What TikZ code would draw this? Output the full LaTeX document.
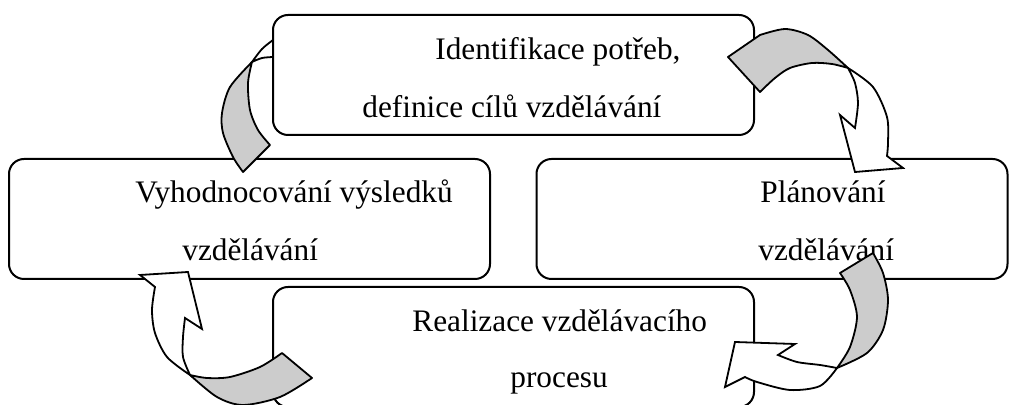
\documentclass[tikz,border=0pt]{standalone}
\usepackage{fontspec}
\setmainfont{Liberation Serif}
\usetikzlibrary{positioning}
\definecolor{BandGray}{HTML}{CCCCCC}
\tikzset{
  stagebox/.style={draw=black, line width=1pt, rounded corners=7.5pt, fill=white, inner sep=0pt, minimum width=240.5pt, minimum height=60pt},
  linetext/.style={anchor=base west, inner sep=0pt, font=\fontsize{15.65pt}{18pt}\selectfont},
  grayband/.style={draw=black, line width=0.9pt, line join=round, fill=BandGray},
  whiteband/.style={draw=black, line width=0.9pt, line join=miter, fill=white}
}
\begin{document}
\begin{tikzpicture}[x=0.5pt, y=-0.5pt]
\useasboundingbox (0,0) rectangle (1009,405);
\clip (0,0) rectangle (1009,405);

% stages of the cycle
\node[stagebox] (eval) at (249.5,219) {};
\node[stagebox, minimum width=235.5pt] (plan) at (772,219) {};
\node[stagebox] (real) at (513.5,347) {};

\node[linetext] (eval1) at (135,203) {Vyhodnocování výsledků};
\node[linetext] (eval2) at (182,261) {vzdělávání};
\node[linetext] (plan1) at (760,203) {Plánování};
\node[linetext] (plan2) at (758,261) {vzdělávání};
\node[linetext] (real1) at (412,332) {Realizace vzdělávacího};
\node[linetext] (real2) at (510,388) {procesu};

% curved arrow: top box -> evaluation
\path[whiteband] plot[smooth] coordinates {(273,40) (262,49) (252,62)}
  -- plot[smooth] coordinates {(252,62) (262,58) (273,57)} -- cycle;
\path[grayband] plot[smooth] coordinates {(252,62) (230,87) (222,113) (223,133) (233,157) (243,172)}
  -- (270,145)
  -- plot[smooth] coordinates {(270,145) (258,130) (250,110) (248,83) (252,62)} -- cycle;

\node[stagebox] (need) at (513.5,75) {};
\node[linetext] (need1) at (435,60) {Identifikace potřeb,};
\node[linetext] (need2) at (362,118) {definice cílů vzdělávání};

% curved arrow: top box -> planning
\path[grayband] (728,57) -- (760,92)
  -- plot[smooth] coordinates {(760,92) (775,78) (790,68) (812,63) (832,64) (848,68)}
  -- plot[smooth] coordinates {(848,68) (828,50) (808,35) (785,29) (760,35)} -- cycle;
\path[whiteband] plot[smooth] coordinates {(848,68) (855,83) (858,103) (855,128)}
  -- (840,115) -- (855,172) -- (903,168) -- (887,156)
  -- plot[smooth] coordinates {(887,156) (888,143) (887,117) (873,87) (848,68)} -- cycle;

% curved arrow: planning -> realisation
\path[grayband] (840,273) -- (873,253)
  -- plot[smooth] coordinates {(873,253) (883,273) (888,300) (883,330) (867,353) (837,368)}
  -- plot[smooth] coordinates {(837,368) (850,347) (857,317) (850,290) (840,273)} -- cycle;
\path[whiteband] plot[smooth] coordinates {(837,368) (820,365) (797,362) (778,355)}
  -- (795,344) -- (735,342) -- (725,387) -- (745,377)
  -- plot[smooth] coordinates {(745,377) (757,382) (790,390) (820,386) (837,368)} -- cycle;

% curved arrow: realisation -> evaluation
\path[grayband] (282,353) -- (312,378)
  -- plot[smooth] coordinates {(312,378) (280,397) (243,405) (217,397) (190,375)}
  -- plot[smooth] coordinates {(190,375) (207,378) (230,377) (260,367) (282,353)} -- cycle;
\path[whiteband] plot[smooth] coordinates {(190,375) (167,357) (155,333) (152,310) (155,287)}
  -- (140,275) -- (188,272) -- (202,329) -- (185,318)
  -- plot[smooth] coordinates {(185,318) (183,337) (183,357) (190,375)} -- cycle;
\end{tikzpicture}
\end{document}
